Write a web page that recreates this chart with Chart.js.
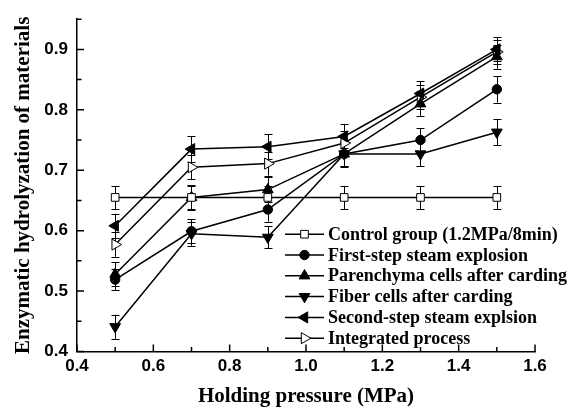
<!DOCTYPE html>
<html>
<head>
<meta charset="utf-8">
<script src="https://cdn.jsdelivr.net/npm/chart.js@4/dist/chart.umd.min.js"></script>
<style>
  html, body { margin: 0; padding: 0; background: #fff; }
  #wrap { width: 576px; height: 408px; }
</style>
</head>
<body>
<div id="wrap"><canvas id="c" width="576" height="408"></canvas></div>
<script>
// ---------- data ----------
const pressure   = [0.5, 0.7, 0.9, 1.1, 1.3, 1.5];
const control    = [0.655, 0.655, 0.655, 0.655, 0.655, 0.655];
const firstStep  = [0.519, 0.599, 0.635, 0.727, 0.750, 0.834];
const parenchyma = [0.528, 0.655, 0.668, 0.727, 0.810, 0.888];
const fiber      = [0.441, 0.595, 0.589, 0.727, 0.727, 0.763];
const secondStep = [0.608, 0.735, 0.739, 0.756, 0.827, 0.900];
const integrated = [0.577, 0.705, 0.711, 0.745, 0.821, 0.896];

const controlErr    = [0.019, 0.019, 0.019, 0.019, 0.019, 0.019];
const firstStepErr  = [0.018, 0.020, 0.020, 0.020, 0.020, 0.022];
const parenchymaErr = [0.020, 0.020, 0.020, 0.020, 0.020, 0.020];
const fiberErr      = [0.020, 0.020, 0.018, 0.022, 0.020, 0.022];
const secondStepErr = [0.020, 0.021, 0.021, 0.020, 0.020, 0.020];
const integratedErr = [0.020, 0.020, 0.020, 0.020, 0.020, 0.020];

const seriesNames = [
  'Control group (1.2MPa/8min)',
  'First-step steam explosion',
  'Parenchyma cells after carding',
  'Fiber cells after carding',
  'Second-step steam explsion',
  'Integrated process'
];

const xTicks = [0.4, 0.6, 0.8, 1.0, 1.2, 1.4, 1.6];
const yTicks = [0.4, 0.5, 0.6, 0.7, 0.8, 0.9];
const xTitle = 'Holding pressure (MPa)';
const yTitle = 'Enzymatic hydrolyzation of materials';

// ---------- styles ----------
const seriesValues = [control, firstStep, parenchyma, fiber, secondStep, integrated];
const seriesErrors = [controlErr, firstStepErr, parenchymaErr, fiberErr, secondStepErr, integratedErr];
const markers = [
  { style: 'rect',     rot: 0,   r: 5.4, fill: '#fff' },
  { style: 'circle',   rot: 0,   r: 4.7, fill: '#000' },
  { style: 'triangle', rot: 0,   r: 6.2, fill: '#000' },
  { style: 'triangle', rot: 180, r: 6.2, fill: '#000' },
  { style: 'triangle', rot: 270, r: 6.4, fill: '#000' },
  { style: 'triangle', rot: 90,  r: 6.4, fill: '#fff' }
];

const datasets = seriesValues.map((vals, i) => ({
  label: seriesNames[i],
  data: pressure.map((p, j) => ({ x: p, y: vals[j] })),
  errors: seriesErrors[i],
  borderColor: '#000',
  borderWidth: 1.5,
  backgroundColor: markers[i].fill,
  pointStyle: markers[i].style,
  pointRotation: markers[i].rot,
  pointRadius: markers[i].r,
  pointBackgroundColor: markers[i].fill,
  pointBorderColor: '#000',
  pointBorderWidth: 1,
  tension: 0,
  fill: false
}));

// error bars drawn beneath markers
const errorBars = {
  id: 'errorBars',
  beforeDatasetsDraw(chart) {
    const ctx = chart.ctx;
    const xs = chart.scales.x, ys = chart.scales.y;
    ctx.save();
    ctx.strokeStyle = '#000';
    ctx.lineWidth = 1;
    chart.data.datasets.forEach(ds => {
      ds.data.forEach((pt, j) => {
        const e = ds.errors[j];
        const px = Math.round(xs.getPixelForValue(pt.x)) + 0.5;
        const top = ys.getPixelForValue(pt.y + e);
        const bot = ys.getPixelForValue(pt.y - e);
        ctx.beginPath();
        ctx.moveTo(px, top); ctx.lineTo(px, bot);
        ctx.moveTo(px - 4, Math.round(top) + 0.5); ctx.lineTo(px + 4, Math.round(top) + 0.5);
        ctx.moveTo(px - 4, Math.round(bot) + 0.5); ctx.lineTo(px + 4, Math.round(bot) + 0.5);
        ctx.stroke();
      });
    });
    ctx.restore();
  }
};

// inward major/minor ticks
const innerTicks = {
  id: 'innerTicks',
  afterDraw(chart) {
    const ctx = chart.ctx;
    const xs = chart.scales.x, ys = chart.scales.y;
    const a = chart.chartArea;
    ctx.save();
    ctx.strokeStyle = '#000';
    ctx.lineWidth = 1.5;
    ctx.beginPath();
    for (let k = 0; k <= 12; k++) {
      const v = 0.4 + k * 0.1;
      const px = xs.getPixelForValue(v);
      const len = (k % 2 === 0) ? 7 : 4.5;
      ctx.moveTo(px, a.bottom); ctx.lineTo(px, a.bottom - len);
    }
    for (let k = 0; k <= 11; k++) {
      const v = 0.4 + k * 0.05;
      const py = ys.getPixelForValue(v);
      const len = (k % 2 === 0) ? 7 : 4.5;
      ctx.moveTo(a.left, py); ctx.lineTo(a.left + len, py);
    }
    ctx.stroke();
    ctx.restore();
  }
};

// legend inside plot
const innerLegend = {
  id: 'innerLegend',
  afterDraw(chart) {
    const ctx = chart.ctx;
    const a = chart.chartArea;
    const x0 = a.left + 208, x1 = a.left + 247, xm = a.left + 227.5, xt = a.left + 251;
    const y0 = a.top + 215, dy = 20.8;
    ctx.save();
    ctx.font = 'bold 18px "Liberation Serif", "Times New Roman", serif';
    ctx.textBaseline = 'middle';
    ctx.textAlign = 'left';
    chart.data.datasets.forEach((ds, i) => {
      const y = y0 + i * dy;
      ctx.strokeStyle = '#000';
      ctx.lineWidth = 1.5;
      ctx.beginPath(); ctx.moveTo(x0, y); ctx.lineTo(x1, y); ctx.stroke();
      ctx.fillStyle = markers[i].fill;
      ctx.strokeStyle = '#000';
      ctx.lineWidth = 1;
      Chart.helpers.drawPoint(ctx, {
        pointStyle: markers[i].style, rotation: markers[i].rot,
        radius: markers[i].r, borderWidth: 1
      }, xm, y);
      ctx.fillStyle = '#000';
      ctx.fillText(ds.label, xt, y + 1);
    });
    ctx.restore();
  }
};

new Chart(document.getElementById('c'), {
  type: 'line',
  data: { datasets },
  plugins: [errorBars, innerTicks, innerLegend],
  options: {
    responsive: false,
    animation: false,
    events: [],
    layout: { padding: { top: 13, right: 41, left: 0, bottom: 0 } },
    plugins: { legend: { display: false }, tooltip: { enabled: false } },
    scales: {
      x: {
        type: 'linear', min: 0.4, max: 1.6,
        afterBuildTicks: s => { s.ticks = xTicks.map(v => ({ value: v })); },
        afterFit: s => { s.height = 56.5; },
        grid: { display: false, drawTicks: false },
        border: { display: true, color: '#000', width: 1.5 },
        ticks: {
          color: '#000', padding: 5,
          font: { family: '"Liberation Sans", Arial, sans-serif', size: 17, weight: 'bold' },
          callback: v => v.toFixed(1), maxRotation: 0, autoSkip: false
        },
        title: {
          display: true, text: xTitle, color: '#000',
          font: { family: '"Liberation Serif", "Times New Roman", serif', size: 21, weight: 'bold', lineHeight: 1.1 },
          padding: { top: 0, bottom: 0 }
        }
      },
      y: {
        type: 'linear', min: 0.4, max: 0.95,
        afterBuildTicks: s => { s.ticks = yTicks.map(v => ({ value: v })); },
        afterFit: s => { s.width = 77; },
        grid: { display: false, drawTicks: false },
        border: { display: true, color: '#000', width: 1.5 },
        ticks: {
          color: '#000', padding: 9,
          font: { family: '"Liberation Sans", Arial, sans-serif', size: 17, weight: 'bold' },
          callback: v => v.toFixed(1), autoSkip: false
        },
        title: {
          display: true, text: yTitle, color: '#000',
          font: { family: '"Liberation Serif", "Times New Roman", serif', size: 21, weight: 'bold', lineHeight: 1.2 },
          padding: { top: 11, bottom: 0 }
        }
      }
    }
  }
});
</script>
</body>
</html>
